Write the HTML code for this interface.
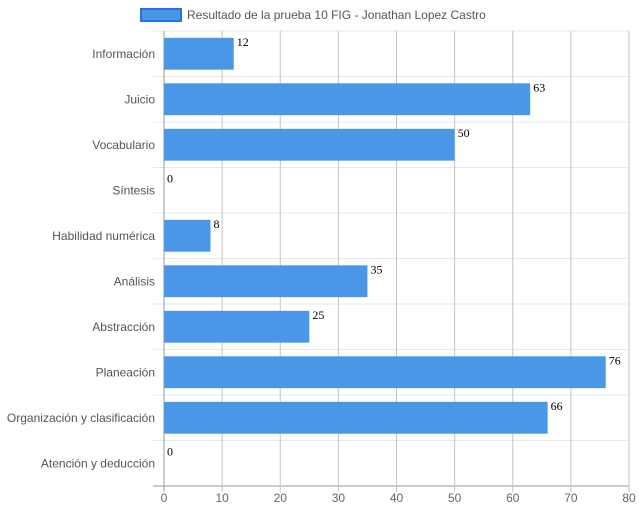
<!DOCTYPE html>
<html><head><meta charset="utf-8"><style>
body{margin:0;background:#fff;}
svg{display:block;font-family:"Liberation Sans",sans-serif;}
</style></head><body>
<svg id="c" width="639" height="514">
<g>
<rect x="141" y="9" width="40" height="12" fill="#4a97e8" stroke="#1e78e0" stroke-width="2"></rect>
<text x="187" y="19" font-size="12" fill="#555">Resultado de la prueba 10 FIG - Jonathan Lopez Castro</text>
</g>
<g id="grid"></g><g id="bars"></g><g id="labels"></g>
</svg>
<script>
const categories=["Información","Juicio","Vocabulario","Síntesis","Habilidad numérica","Análisis","Abstracción","Planeación","Organización y clasificación","Atención y deducción"];
const values=[12,63,50,0,8,35,25,76,66,0];
const xTicks=[0,10,20,30,40,50,60,70,80];
const X0=164,X1=629,Y0=31,Y1=486,xMax=80;
const x=v=>X0+(v/xMax)*(X1-X0);
const band=(Y1-Y0)/categories.length;
const y=i=>Y0+i*band;
const NS="http://www.w3.org/2000/svg";
const g=document.getElementById('grid'),b=document.getElementById('bars'),l=document.getElementById('labels');
function mk(p,t,a){const e=document.createElementNS(NS,t);for(const k in a)e.setAttribute(k,a[k]);p.appendChild(e);return e;}
for(let i=0;i<=categories.length;i++){
 const e=mk(g,'line',{x1:153,x2:X1,y1:y(i),y2:y(i),stroke:i==categories.length?'#999':'#e8e8e8'});
 
 
}
xTicks.forEach(t=>{
 const e=mk(g,'line',{x1:x(t),x2:x(t),y1:Y0,y2:Y1+6,stroke:t==0?'#999':'#c4c4c4'});
 
 
 const tx=mk(l,'text',{x:x(t),y:502,'font-size':12,fill:'#666','text-anchor':'middle'});
 tx.textContent=t;
 
 
});
categories.forEach((c,i)=>{
 const cy=y(i)+band/2;
 const tx=mk(l,'text',{x:155,y:cy+4,'font-size':12,fill:'#555','text-anchor':'end'});
 tx.textContent=c;
 
 
 const h=band*0.7;
 if(values[i]>0){
  const r=mk(b,'rect',{x:X0,y:cy-h/2,width:x(values[i])-X0,height:h,fill:'#4a97e8'});
  
  
 }
 const v=mk(l,'text',{x:x(values[i])+3,y:cy-8,'font-size':12,fill:'#000','font-family':'Liberation Serif,serif'});
 v.textContent=values[i];
 
 
});
</script>
</body></html>
